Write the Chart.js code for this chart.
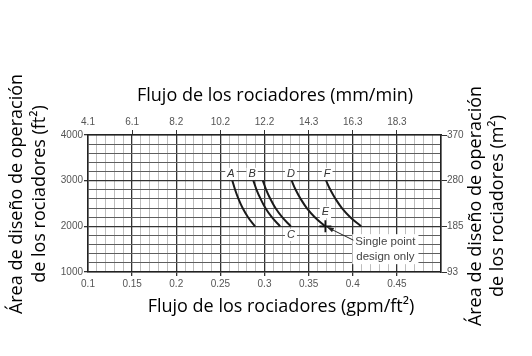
<!DOCTYPE html>
<html><head><meta charset="utf-8">
<script src="https://cdn.jsdelivr.net/npm/chart.js@4/dist/chart.umd.min.js"></script>
<style>html,body{margin:0;padding:0;background:#fff}#wrap{width:532px;height:356px}</style>
</head><body><div id="wrap"><canvas id="c" width="532" height="356"></canvas></div>
<script>
// ---- data ----
const areaFt2 = [3000, 2800, 2600, 2400, 2200, 2000];
const curveA = [0.2636, 0.2667, 0.2705, 0.2752, 0.2813, 0.2893];
const curveB = [0.2874, 0.2910, 0.2956, 0.3010, 0.3083, 0.3177];
const curveC = [0.2981, 0.3019, 0.3067, 0.3124, 0.3200, 0.3298];
const curveD = [0.3308, 0.3353, 0.3410, 0.3479, 0.3570, 0.3687];
const curveF = [0.3698, 0.3746, 0.3805, 0.3877, 0.3972, 0.4095];
const pointEFlux = [0.369];
const pointEArea = [2000];
const bottomTicks = [0.1, 0.15, 0.2, 0.25, 0.3, 0.35, 0.4, 0.45];
const topTickLabels = ['4.1', '6.1', '8.2', '10.2', '12.2', '14.3', '16.3', '18.3'];
const leftTicks = [1000, 2000, 3000, 4000];
const rightTickLabels = ['93', '185', '280', '370'];
const curveLabels = ['A', 'B', 'C', 'D', 'E', 'F'];
const labelFlux = [0.262, 0.286, 0.330, 0.330, 0.369, 0.371];
const labelArea = [3150, 3150, 1810, 3150, 2310, 3150];
const noteLines = ['Single point', 'design only'];
const noteFlux = [0.437];
const noteArea = [1500];
const titleTop = 'Flujo de los rociadores (mm/min)';
const titleBottom = 'Flujo de los rociadores (gpm/ft²)';
const titleLeft = ['Área de diseño de operación', 'de los rociadores (ft²)'];
const titleRight = ['Área de diseño de operación', 'de los rociadores (m²)'];

const mk = (xs) => xs.map((x, i) => ({x: x, y: areaFt2[i]}));
const near = (v, arr) => arr.findIndex(t => Math.abs(t - v) < 1e-6);
const tickFont = {family: '"Liberation Sans", Arial, sans-serif', size: 10};
const tickCol = '#555';
const titleFont = '"Open Sans", sans-serif';

const lineDs = (data) => ({
  data: mk(data), showLine: true, borderColor: '#1a1a1a', borderWidth: 2,
  pointRadius: 0, tension: 0.4, fill: false
});

const decor = {
  id: 'decor',
  afterDatasetsDraw(chart) {
    const ctx = chart.ctx, xs = chart.scales.x, ys = chart.scales.y;
    ctx.save();
    // curve letters
    ctx.font = 'italic 11px "Liberation Sans", Arial, sans-serif';
    ctx.textAlign = 'center'; ctx.textBaseline = 'middle';
    curveLabels.forEach((t, i) => {
      const px = xs.getPixelForValue(labelFlux[i]), py = ys.getPixelForValue(labelArea[i]);
      const w = ctx.measureText(t).width + 4;
      ctx.fillStyle = '#fff'; ctx.fillRect(px - w / 2, py - 6, w, 12);
      ctx.fillStyle = '#333'; ctx.fillText(t, px, py);
    });
    // note box
    const nx = xs.getPixelForValue(noteFlux[0]), ny = ys.getPixelForValue(noteArea[0]);
    ctx.font = '11.5px "Liberation Sans", Arial, sans-serif';
    const nw = Math.max(...noteLines.map(l => ctx.measureText(l).width)) + 6;
    ctx.fillStyle = '#fff'; ctx.fillRect(nx - nw / 2, ny - 15, nw, 30);
    ctx.fillStyle = '#444';
    noteLines.forEach((l, i) => ctx.fillText(l, nx, ny - 7 + i * 15));
    // arrow to point E
    const ex = xs.getPixelForValue(pointEFlux[0]), ey = ys.getPixelForValue(pointEArea[0]);
    const sx = nx - nw / 2 + 1, sy = ny - 9;
    const ang = Math.atan2(ey - sy, ex - sx);
    const tx = ex - Math.cos(ang) * 2, ty = ey - Math.sin(ang) * 2;
    ctx.strokeStyle = '#222'; ctx.lineWidth = 1;
    ctx.beginPath(); ctx.moveTo(sx, sy); ctx.lineTo(tx, ty); ctx.stroke();
    ctx.fillStyle = '#222'; ctx.beginPath();
    ctx.moveTo(tx, ty);
    ctx.lineTo(tx - Math.cos(ang - 0.35) * 7, ty - Math.sin(ang - 0.35) * 7);
    ctx.lineTo(tx - Math.cos(ang + 0.35) * 7, ty - Math.sin(ang + 0.35) * 7);
    ctx.closePath(); ctx.fill();
    // titles
    ctx.fillStyle = '#000';
    ctx.font = '18px ' + titleFont;
    ctx.textAlign = 'center'; ctx.textBaseline = 'middle';
    ctx.fillText(titleTop, 275, 96);
    ctx.fillText(titleBottom, 281, 307);
    const rot = (lines, xsPos, cy) => {
      lines.forEach((l, i) => {
        ctx.save(); ctx.translate(xsPos[i], cy); ctx.rotate(-Math.PI / 2);
        ctx.fillText(l, 0, 0); ctx.restore();
      });
    };
    rot(titleLeft, [17, 40], 194);
    rot(titleRight, [476, 498], 206);
    ctx.restore();
  }
};

new Chart(document.getElementById('c'), {
  type: 'scatter',
  data: {
    datasets: [
      lineDs(curveA), lineDs(curveB), lineDs(curveC), lineDs(curveD), lineDs(curveF),
      {data: pointEFlux.map((x, i) => ({x: x, y: pointEArea[i]})), pointStyle: 'cross',
       pointRadius: 6, borderColor: '#111', borderWidth: 1.8, showLine: false}
    ]
  },
  plugins: [decor],
  options: {
    responsive: false, devicePixelRatio: 1, animation: false,
    layout: {padding: 0},
    plugins: {legend: {display: false}, tooltip: {enabled: false}},
    scales: {
      x: {
        type: 'linear', position: 'bottom', min: 0.1, max: 0.5,
        afterFit: s => { s.height = 84; },
        ticks: {stepSize: 0.01, autoSkip: false, maxRotation: 0, minRotation: 0, padding: 2,
          font: tickFont, color: tickCol,
          callback: v => { const i = near(v, bottomTicks); return i >= 0 ? String(bottomTicks[i]) : ''; }},
        grid: {
          color: c => near(c.tick.value, bottomTicks) >= 0 ? '#333' : '#bdbdbd',
          lineWidth: c => near(c.tick.value, bottomTicks) >= 0 ? 1.3 : 1,
          tickColor: c => near(c.tick.value, bottomTicks) > 0 ? '#333' : 'rgba(0,0,0,0)',
          tickLength: 4
        },
        border: {color: '#222', width: 1.5}
      },
      x2: {
        type: 'linear', position: 'top', min: 0.1, max: 0.5,
        afterFit: s => { s.height = 135; },
        ticks: {stepSize: 0.01, autoSkip: false, maxRotation: 0, minRotation: 0, padding: 2,
          font: tickFont, color: tickCol,
          callback: v => { const i = near(v, bottomTicks); return i >= 0 ? topTickLabels[i] : ''; }},
        grid: {drawOnChartArea: false,
          tickColor: c => near(c.tick.value, bottomTicks) > 0 ? '#333' : 'rgba(0,0,0,0)',
          tickLength: 5},
        border: {color: '#222', width: 1.5}
      },
      y: {
        type: 'linear', position: 'left', min: 1000, max: 4000,
        afterFit: s => { s.width = 88; },
        ticks: {stepSize: 200, autoSkip: false, padding: 1, font: tickFont, color: tickCol,
          callback: v => leftTicks.includes(v) ? String(v) : ''},
        grid: {color: c => leftTicks.includes(c.tick.value) ? '#333' : '#5e5e5e',
          lineWidth: c => leftTicks.includes(c.tick.value) ? 1.3 : 1,
          tickColor: c => leftTicks.includes(c.tick.value) ? '#333' : 'rgba(0,0,0,0)',
          tickLength: 4},
        border: {color: '#222', width: 1.5}
      },
      y2: {
        type: 'linear', position: 'right', min: 1000, max: 4000,
        afterFit: s => { s.width = 91; },
        ticks: {stepSize: 200, autoSkip: false, padding: 0, font: tickFont, color: tickCol,
          callback: v => { const i = leftTicks.indexOf(v); return i >= 0 ? rightTickLabels[i] : ''; }},
        grid: {drawOnChartArea: false,
          tickColor: c => leftTicks.includes(c.tick.value) ? '#333' : 'rgba(0,0,0,0)',
          tickLength: 6},
        border: {color: '#222', width: 1.5}
      }
    }
  }
});
</script></body></html>
